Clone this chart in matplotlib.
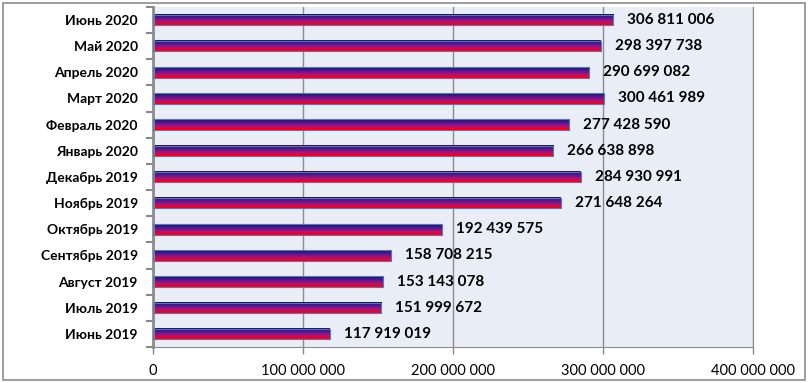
import numpy as np
import matplotlib.pyplot as plt
from matplotlib.colors import LinearSegmentedColormap
from matplotlib.patches import Rectangle

months = ['Июнь 2019', 'Июль 2019', 'Август 2019', 'Сентябрь 2019', 'Октябрь 2019',
          'Ноябрь 2019', 'Декабрь 2019', 'Январь 2020', 'Февраль 2020', 'Март 2020',
          'Апрель 2020', 'Май 2020', 'Июнь 2020']
values = [117919019, 151999672, 153143078, 158708215, 192439575,
          271648264, 284930991, 266638898, 277428590, 300461989,
          290699082, 298397738, 306811006]
xticks = [0, 100000000, 200000000, 300000000, 400000000]


def spaced(n):
    return '{:,}'.format(int(n)).replace(',', ' ')


plt.rcParams['font.family'] = ['Lato', 'DejaVu Sans']

fig = plt.figure(figsize=(8.1, 3.83), dpi=100)
ax = fig.add_axes([0.189, 0.094, 0.741, 0.888])
ax.set_facecolor('#e9edf6')

pos = np.arange(len(months))
bars = ax.barh(pos, values, height=0.4, facecolor='none',
               edgecolor='#4a7ebb', linewidth=0.8, zorder=3)

# vertical gradient: navy on top, purple in the middle, red at the bottom
cmap = LinearSegmentedColormap.from_list('bar', ['#ff0000', '#b8106e', '#5a1490', '#22087a'])
grad = np.linspace(0, 1, 64).reshape(-1, 1)
for b in bars:
    x0, y0 = b.get_x(), b.get_y()
    ax.imshow(grad, cmap=cmap, aspect='auto', origin='lower',
              extent=(x0, x0 + b.get_width(), y0, y0 + b.get_height()), zorder=2)

for p, v in zip(pos, values):
    ax.annotate(spaced(v), (v, p), xytext=(10, 0), textcoords='offset points',
                va='center', ha='left', fontsize=11, fontweight='bold', color='black')

ax.set_xlim(0, 400000000)
ax.set_ylim(-0.5, len(months) - 0.5)
ax.set_xticks(xticks)
ax.set_xticklabels([spaced(t) for t in xticks], fontsize=10.5)
ax.set_yticks(pos)
ax.set_yticklabels(months, fontsize=10, fontweight='bold')
ax.set_yticks(np.arange(len(months) + 1) - 0.5, minor=True)
ax.tick_params(axis='y', which='major', length=0, pad=11)
ax.tick_params(axis='y', which='minor', length=5, width=1.5, color='#888888')
ax.tick_params(axis='x', length=5, width=1, color='#888888', pad=7)
ax.grid(axis='x', color='#8c8c8c', linewidth=1, zorder=1)
ax.set_axisbelow(True)

ax.spines['top'].set_visible(False)
ax.spines['right'].set_color('#8c8c8c')
ax.spines['bottom'].set_color('#8c8c8c')
ax.spines['left'].set_color('#8c8c8c')
ax.spines['left'].set_linewidth(2)

fig.patches.append(Rectangle((0.004, 0.008), 0.99, 0.984, transform=fig.transFigure,
                             fill=False, edgecolor='#8c8c8c', linewidth=1.2))

fig.savefig('out.png', dpi=100)
